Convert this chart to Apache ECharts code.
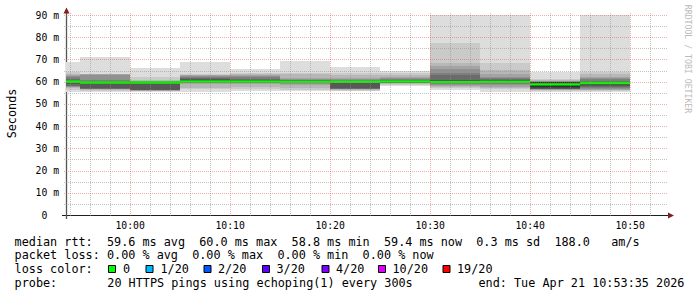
<!DOCTYPE html>
<html><head><meta charset="utf-8">
<script src="https://cdn.jsdelivr.net/npm/echarts@6/dist/echarts.min.js"></script>
<style>html,body{margin:0;padding:0;background:#fff}#c{width:697px;height:297px}</style>
</head><body><div id="c"></div>
<script>
// ---- data (time in minutes relative to 10:00) ----
const viewStart = -(6 + 25 / 60);   // 09:53:35
const viewEnd = 53 + 35 / 60;       // 10:53:35
const slotLength = 5;               // 300 s steps
const slotEnds = [-5, 0, 5, 10, 15, 20, 25, 30, 35, 40, 45, 50];
const medians = [60.0, 59.6, 59.6, 60.0, 60.0, 59.9, 59.9, 60.0, 59.8, 59.9, 58.8, 59.4];
const lossPerSlot = [0, 0, 0, 0, 0, 0, 0, 0, 0, 0, 0, 0];
// sorted ping times (ms) per step, 20 pings each
const ping_0955 = [55.5, 56.3, 57.0, 57.5, 57.8, 58.0, 58.2, 59.0, 59.6, 59.9, 60.1, 60.3, 60.5, 61.0, 62.0, 62.7, 63.2, 63.6, 64.2, 68.8];
const ping_1000 = [55.3, 55.9, 56.3, 56.5, 56.6, 56.7, 56.8, 57.0, 59.2, 59.5, 59.7, 60.0, 60.2, 60.5, 60.8, 63.2, 63.3, 63.4, 63.6, 71.2];
const ping_1005 = [55.3, 55.6, 55.9, 56.0, 56.1, 56.2, 56.3, 56.4, 59.3, 59.5, 59.7, 59.8, 59.9, 60.0, 60.1, 60.3, 60.5, 60.8, 62.2, 66.2];
const ping_1010 = [55.5, 56.5, 57.3, 59.0, 59.3, 59.5, 59.6, 59.7, 59.8, 59.9, 60.1, 60.5, 61.0, 61.5, 62.0, 62.5, 62.8, 63.1, 63.4, 69.0];
const ping_1015 = [55.8, 56.5, 57.5, 58.8, 59.3, 59.5, 59.6, 59.7, 59.8, 59.9, 60.1, 60.4, 60.8, 61.3, 62.0, 62.6, 63.0, 63.3, 64.0, 65.7];
const ping_1020 = [55.6, 56.2, 57.0, 58.5, 59.0, 59.3, 59.5, 59.6, 59.7, 59.8, 60.0, 60.2, 60.4, 60.6, 60.8, 61.0, 61.5, 63.5, 64.0, 69.4];
const ping_1025 = [55.6, 56.0, 56.3, 56.5, 56.7, 56.8, 56.9, 57.0, 59.5, 59.8, 60.0, 60.2, 60.3, 60.5, 60.8, 61.2, 61.8, 62.8, 64.0, 66.8];
const ping_1030 = [58.0, 58.6, 59.0, 59.3, 59.5, 59.6, 59.7, 59.8, 59.9, 59.95, 60.05, 60.2, 60.4, 60.7, 61.1, 61.6, 62.2, 63.0, 63.8, 64.8];
const ping_1035 = [56.2, 57.0, 57.5, 58.0, 58.5, 59.0, 59.3, 59.5, 59.6, 59.7, 59.9, 60.2, 60.8, 63.0, 64.0, 65.5, 67.0, 68.3, 77.6, 95.0];
const ping_1040 = [55.5, 56.6, 57.2, 57.8, 58.3, 58.8, 59.2, 59.5, 59.7, 59.8, 60.0, 60.3, 60.6, 61.0, 61.5, 62.2, 63.5, 65.3, 68.6, 95.0];
const ping_1045 = [55.5, 55.9, 56.2, 56.4, 56.5, 56.6, 56.6, 56.7, 57.0, 57.8, 59.8, 59.9, 59.9, 60.0, 60.0, 60.1, 60.2, 60.8, 61.2, 64.2];
const ping_1050 = [55.5, 56.0, 56.2, 56.4, 56.8, 57.3, 57.8, 58.0, 58.5, 59.2, 59.6, 59.8, 60.0, 60.3, 61.0, 61.6, 62.2, 63.5, 64.5, 95.0];
const pingSets = [ping_0955, ping_1000, ping_1005, ping_1010, ping_1015, ping_1020,
                  ping_1025, ping_1030, ping_1035, ping_1040, ping_1045, ping_1050];

const xTickValues = [0, 10, 20, 30, 40, 50];
const xTickLabels = ['10:00', '10:10', '10:20', '10:30', '10:40', '10:50'];
const xMinorGrid = [-6, -4, -2, 2, 4, 6, 8, 12, 14, 16, 18, 22, 24, 26, 28, 32, 34, 36, 38, 42, 44, 46, 48, 52];
const yMajorGrid = [10, 20, 30, 40, 50, 60, 70, 80, 90];
const yMinorGrid = [5, 15, 25, 35, 45, 55, 65, 75, 85];

const rttStats = ['59.6', '60.0', '58.8', '59.4', '0.3', '188.0'];
const lossStats = ['0.00', '0.00', '0.00', '0.00'];
const lossLabels = ['0', '1/20', '2/20', '3/20', '4/20', '10/20', '19/20'];
const lossColors = ['#00ff00', '#00b8ff', '#0059ff', '#5e00ff', '#7e00ff', '#dd00ff', '#ff0000'];
const probeText = '20 HTTPS pings using echoping(1) every 300s';
const endText = 'end: Tue Apr 21 10:53:35 2026';

// ---- styles ----
const smokeShades = ['#dddddd', '#cacaca', '#b7b7b7', '#a4a4a4', '#919191', '#7e7e7e', '#6b6b6b', '#585858', '#454545', '#323232'];
const MONO = '"DejaVu Sans Mono", monospace';
const MGRID = 'rgba(222,79,79,0.45)';
const GRID = 'rgba(143,143,143,0.55)';
const ARROW = '#801f1f';
const AXIS = '#1f1f1f';

const chart = echarts.init(document.getElementById('c'), null, { renderer: 'svg', width: 697, height: 297 });

function csRect(cs) { return { x: cs.x, y: cs.y, width: cs.width, height: cs.height }; }

const smokeData = slotEnds.map((e, i) => [e].concat(pingSets[i], [medians[i], lossPerSlot[i]]));

const smokeSeries = {
  type: 'custom', name: 'smoke', z: 2, silent: true, animation: false,
  data: smokeData,
  encode: { x: 0, y: 21 },
  renderItem(params, api) {
    const cs = csRect(params.coordSys);
    const end = api.value(0), start = end - slotLength;
    const children = [];
    for (let k = 0; k < 10; k++) {
      const lo = api.value(1 + k), hi = api.value(20 - k);
      const p0 = api.coord([start, hi]), p1 = api.coord([end, lo]);
      const x0 = Math.round(p0[0]), x1 = Math.round(p1[0]);
      const y0 = Math.round(p0[1]), y1 = Math.round(p1[1]);
      const r = echarts.graphic.clipRectByRect({ x: x0, y: y0, width: x1 - x0, height: Math.max(1, y1 - y0) }, cs);
      if (r) children.push({ type: 'rect', shape: r, style: { fill: smokeShades[k] } });
    }
    const med = api.value(21), loss = api.value(22);
    const pm0 = api.coord([start, med]), pm1 = api.coord([end, med]);
    const xm0 = Math.round(pm0[0]), xm1 = Math.round(pm1[0]);
    const mr = echarts.graphic.clipRectByRect({ x: xm0, y: pm0[1] - 1.2, width: xm1 - xm0, height: 2.4 }, cs);
    if (mr) children.push({ type: 'rect', shape: mr, style: { fill: lossColors[loss] } });
    return { type: 'group', children };
  }
};

function vGridSeries(name, values, color) {
  return {
    type: 'custom', name, z: 5, silent: true, animation: false,
    data: values.map(v => [v, 0]), encode: { x: 0, y: 1 },
    renderItem(params, api) {
      const cs = params.coordSys;
      const x = Math.round(api.coord([api.value(0), 0])[0]) + 0.5;
      return { type: 'line', shape: { x1: x, y1: cs.y - 2, x2: x, y2: cs.y + cs.height + 2 },
               style: { stroke: color, lineWidth: 1, lineDash: [1, 1] } };
    }
  };
}
function hGridSeries(name, values, color) {
  return {
    type: 'custom', name, z: 5, silent: true, animation: false,
    data: values.map(v => [viewStart, v]), encode: { x: 0, y: 1 },
    renderItem(params, api) {
      const cs = params.coordSys;
      const y = Math.round(api.coord([viewStart, api.value(1)])[1]) + 0.5;
      return { type: 'line', shape: { x1: cs.x - 2, y1: y, x2: cs.x + cs.width + 2, y2: y },
               style: { stroke: color, lineWidth: 1, lineDash: [1, 1] } };
    }
  };
}

const LEG = 11.8;
const legendBoxX = [108.5, 146, 204, 262.5, 322, 378.5, 443];
const legendLabelX = [123, 160.5, 218, 276.5, 336, 392.5, 457];
const lineY = [241.5, 255.2, 268.9, 282.6];

function txt(x, y, text, extra) {
  return Object.assign({ type: 'text', x, y, silent: true,
    style: { text, font: LEG + 'px ' + MONO, fill: '#000', align: 'left', verticalAlign: 'middle' } }, extra || {});
}

const graphics = [
  // axis extensions and arrows
  { type: 'line', silent: true, shape: { x1: 62, y1: 215.5, x2: 669, y2: 215.5 }, style: { stroke: AXIS, lineWidth: 1 } },
  { type: 'line', silent: true, shape: { x1: 66.5, y1: 219, x2: 66.5, y2: 11 }, style: { stroke: '#555', lineWidth: 1.3 } },
  { type: 'polygon', silent: true, shape: { points: [[668, 212.5], [668, 218.5], [674, 215.5]] }, style: { fill: ARROW } },
  { type: 'polygon', silent: true, shape: { points: [[63.5, 13.5], [69.5, 13.5], [66.5, 7.5]] }, style: { fill: ARROW } },
  // y axis title
  { type: 'text', x: 11.5, y: 113.5, rotation: Math.PI / 2, silent: true,
    style: { text: 'Seconds', font: LEG + 'px ' + MONO, fill: '#000', align: 'center', verticalAlign: 'middle' } },
  // watermark
  { type: 'text', x: 688, y: 59, rotation: -Math.PI / 2, silent: true,
    style: { text: 'RRDTOOL / TOBI OETIKER', font: '8.2px ' + MONO, fill: '#bbbbbb', align: 'center', verticalAlign: 'middle' } },
  txt(14.6, lineY[0], `median rtt:  ${rttStats[0]} ms avg  ${rttStats[1]} ms max  ${rttStats[2]} ms min  ${rttStats[3]} ms now  ${rttStats[4]} ms sd  ${rttStats[5]}   am/s`),
  txt(14.6, lineY[1], `packet loss: ${lossStats[0]} % avg  ${lossStats[1]} % max  ${lossStats[2]} % min  ${lossStats[3]} % now`),
  txt(14.6, lineY[2], 'loss color:'),
  txt(14.6, lineY[3], 'probe:'),
  txt(107.3, lineY[3], probeText),
  txt(478.5, lineY[3], endText)
];
lossLabels.forEach((lab, i) => {
  graphics.push({ type: 'rect', silent: true, shape: { x: legendBoxX[i], y: 265.5, width: 7, height: 7 },
                  style: { fill: lossColors[i], stroke: '#000', lineWidth: 1 } });
  graphics.push(txt(legendLabelX[i], lineY[2], lab));
});

chart.setOption({
  animation: false,
  backgroundColor: '#ffffff',
  grid: { left: 66, right: 31, top: 15, bottom: 82, containLabel: false },
  xAxis: {
    type: 'value', min: viewStart, max: viewEnd,
    axisLine: { show: false },
    axisTick: { show: false },
    splitLine: { show: false },
    axisLabel: {
      customValues: xTickValues,
      formatter: v => { const i = xTickValues.indexOf(v); return i >= 0 ? xTickLabels[i] : ''; },
      fontFamily: MONO, fontSize: 9.75, color: '#000', margin: 5
    }
  },
  yAxis: {
    type: 'value', min: 0, max: 90, interval: 10,
    axisLine: { show: false }, axisTick: { show: false }, splitLine: { show: false },
    axisLabel: {
      formatter: v => v === 0 ? '{z|0}' : v + ' m',
      rich: { z: { fontFamily: MONO, fontSize: 9.75, color: '#000', padding: [0, 11.7, 0, 0] } },
      fontFamily: MONO, fontSize: 9.75, color: '#000', margin: 7
    }
  },
  series: [
    smokeSeries,
    vGridSeries('xminor', xMinorGrid, GRID),
    hGridSeries('yminor', yMinorGrid, GRID),
    vGridSeries('xmajor', xTickValues, MGRID),
    hGridSeries('ymajor', yMajorGrid, MGRID)
  ],
  graphic: { elements: graphics }
});
</script>
</body></html>
